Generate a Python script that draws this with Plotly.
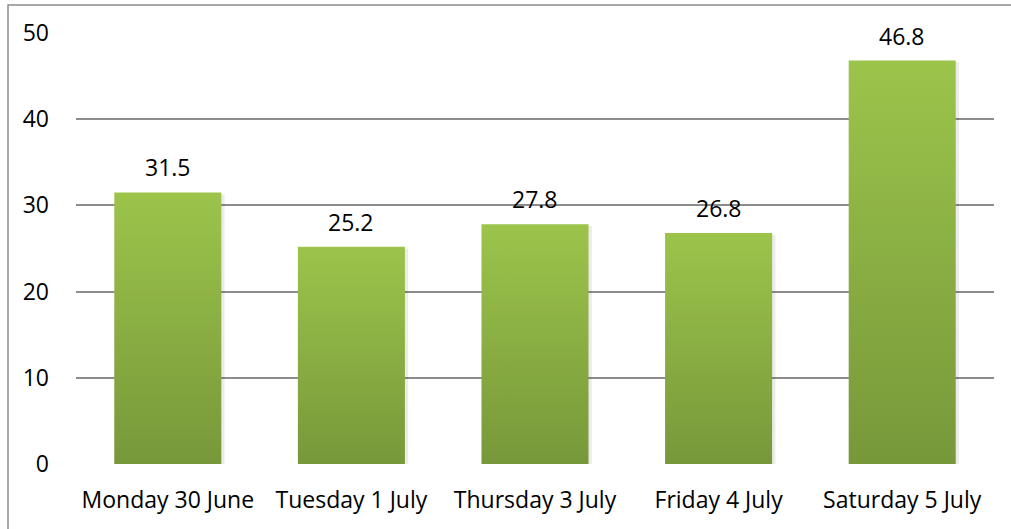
import plotly.graph_objects as go

categories = ["Monday 30 June", "Tuesday 1 July", "Thursday 3 July", "Friday 4 July", "Saturday 5 July"]
values = [31.5, 25.2, 27.8, 26.8, 46.8]
y_ticks = [0, 10, 20, 30, 40, 50]

TOP = "#9CC44B"
BOTTOM = "#77983A"
HALF = 0.2915
FONT = "Open Sans"

fig = go.Figure()
for i, (cat, v) in enumerate(zip(categories, values)):
    # subtle shadow
    fig.add_trace(go.Scatter(
        x=[i - HALF + 0.012, i + HALF + 0.018, i + HALF + 0.018, i - HALF + 0.012, i - HALF + 0.012],
        y=[-0.35, -0.35, v - 0.2, v - 0.2, -0.35],
        mode="lines", fill="toself", fillcolor="rgba(0,0,0,0.08)",
        line=dict(width=0), hoverinfo="skip", showlegend=False, cliponaxis=False))
    fig.add_trace(go.Scatter(
        x=[i - HALF, i + HALF, i + HALF, i - HALF, i - HALF],
        y=[0, 0, v, v, 0],
        mode="lines", fill="toself",
        fillgradient=dict(type="vertical", colorscale=[[0, BOTTOM], [1, TOP]]),
        line=dict(width=0), name=cat, showlegend=False, cliponaxis=False))
    fig.add_annotation(x=i, y=v, text=f"{v:.1f}", showarrow=False,
                       yanchor="bottom", yshift=7,
                       font=dict(family=FONT, size=23, color="#000000"))

fig.update_layout(
    width=1011, height=529,
    margin=dict(l=76, r=17, t=33, b=65),
    paper_bgcolor="white", plot_bgcolor="white",
    font=dict(family=FONT, size=23, color="#000000"),
    xaxis=dict(range=[-0.5, 4.5], tickmode="array", tickvals=list(range(len(categories))),
               ticktext=categories, showgrid=False, zeroline=False, showline=False,
               ticks="", ticklabelstandoff=20, fixedrange=True),
    yaxis=dict(range=[0, 50], tickmode="array", tickvals=y_ticks,
               showgrid=True, gridcolor="#8C8C8C", gridwidth=2,
               zeroline=False, showline=False, ticks="", ticklabelstandoff=26,
               layer="below traces", fixedrange=True),
    shapes=[dict(type="rect", xref="paper", yref="paper",
                 x0=(8 - 76) / 918, x1=(1014 - 76) / 918,
                 y0=(464 - 532) / 430.5, y1=(464 - 5.5) / 430.5,
                 line=dict(color="#8C8C8C", width=1.5), fillcolor="rgba(0,0,0,0)",
                 layer="below")],
)

fig.write_html("out.html", config={"displayModeBar": False},
               post_script="document.body.style.margin='0px';")
